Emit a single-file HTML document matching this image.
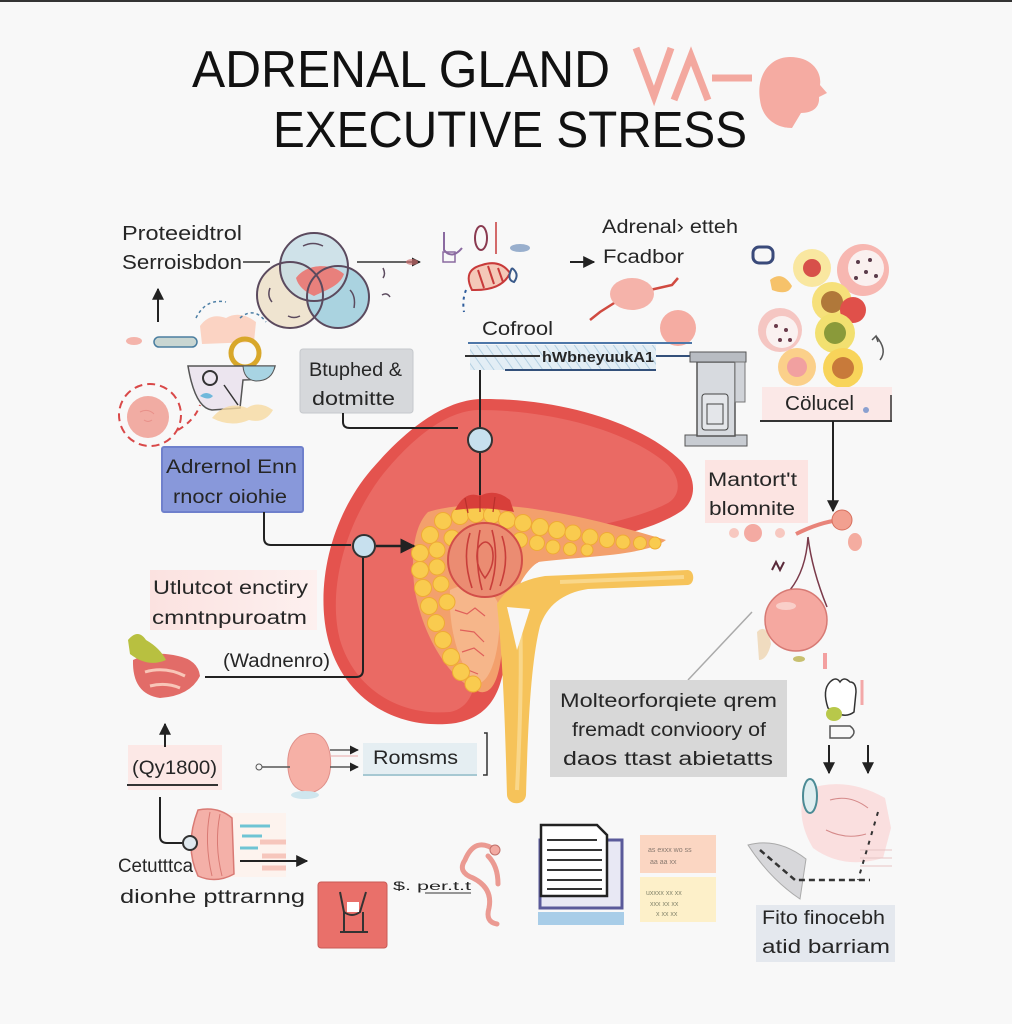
<!DOCTYPE html>
<html><head><meta charset="utf-8">
<style>
html,body{margin:0;padding:0;background:#f8f8f8;}
svg{display:block;}
text{font-family:"Liberation Sans",sans-serif;fill:#262626;}
</style></head><body>
<svg width="1012" height="1024" viewBox="0 0 1012 1024" xmlns="http://www.w3.org/2000/svg">
<defs>
<marker id="ah" viewBox="0 0 10 10" refX="9" refY="5" markerWidth="6" markerHeight="6" orient="auto"><path d="M0,0 L10,5 L0,10 Z" fill="#222"/></marker>
<pattern id="stripe" width="8" height="8" patternUnits="userSpaceOnUse" patternTransform="rotate(-35)"><rect width="8" height="8" fill="#e3eef5"/><line x1="0" y1="0" x2="0" y2="8" stroke="#b3d0e2" stroke-width="2"/></pattern>
<linearGradient id="pinkfade" x1="0" x2="1"><stop offset="0" stop-color="#fbe2e0"/><stop offset="1" stop-color="#fdf0ef"/></linearGradient>
</defs>
<rect width="1012" height="1024" fill="#f8f8f8"/>
<rect width="1012" height="2" fill="#333"/>

<!-- TITLE -->
<text x="192" y="87" font-size="52" textLength="418" lengthAdjust="spacingAndGlyphs" style="fill:#111">ADRENAL GLAND</text>
<text x="273" y="147" font-size="51" textLength="474" lengthAdjust="spacingAndGlyphs" style="fill:#111">EXECUTIVE STRESS</text>
<g stroke="#f3a89f" stroke-width="7" fill="none" stroke-linejoin="miter">
<polyline points="636,48 654,96 671,48"/>
<polyline points="674,100 691,56 708,100"/>
<line x1="712" y1="78" x2="752" y2="78"/>
</g>
<path d="M790,57 C812,57 822,72 820,85 L827,93 L819,97 C820,108 812,113 801,113 L792,128 C776,128 762,118 760,100 C756,75 770,57 790,57Z" fill="#f5aba2"/>

<!-- TOP LEFT LABEL -->
<text x="122" y="240" font-size="20" textLength="120" lengthAdjust="spacingAndGlyphs">Proteeidtrol</text>
<text x="122" y="269" font-size="20" textLength="120" lengthAdjust="spacingAndGlyphs">Serroisbdon</text>
<line x1="243" y1="262" x2="270" y2="262" stroke="#333" stroke-width="1.5"/>
<line x1="357" y1="262" x2="420" y2="262" stroke="#333" stroke-width="1.5" marker-end="url(#ah)"/>
<ellipse cx="412" cy="262" rx="6" ry="3" fill="#c96d6d" opacity="0.7"/>

<!-- VENN -->
<circle cx="290" cy="295" r="33" fill="#efe4d0"/>
<circle cx="338" cy="297" r="31" fill="#aad3e0"/>
<circle cx="314" cy="267" r="34" fill="#c4dce5" fill-opacity="0.8"/>
<path d="M296,278 C306,264 330,262 344,274 C340,286 326,290 314,296 C305,292 298,286 296,278Z" fill="#e8807c"/>
<g stroke="#5b4a5e" stroke-width="2" fill="none">
<circle cx="290" cy="295" r="33"/>
<circle cx="338" cy="297" r="31"/>
<circle cx="314" cy="267" r="34"/>
</g>
<g stroke="#5b4a5e" stroke-width="1.5" fill="none">
<path d="M270,288 q-3,8 2,14"/><path d="M288,316 q6,3 12,0"/><path d="M350,290 q6,6 4,18"/><path d="M303,246 q10,-5 20,0"/>
<path d="M383,268 q3,6 0,10"/><path d="M382,295 q5,-3 8,2"/>
</g>

<!-- up arrow left -->
<line x1="158" y1="322" x2="158" y2="289" stroke="#222" stroke-width="2" marker-end="url(#ah)"/>

<!-- left cluster -->
<ellipse cx="134" cy="341" rx="8" ry="4" fill="#f4b4ab"/>
<rect x="154" y="337" width="43" height="10" rx="5" fill="#c9d6d2" stroke="#4a7ea0" stroke-width="1.5"/>
<path d="M200,326 q10,-14 26,-8 q14,-8 30,4 l-2,20 l-52,2 Z" fill="#fbd3c3"/>
<path d="M196,318 q10,-20 30,-16" stroke="#4d7fa5" stroke-width="1.5" stroke-dasharray="3 3" fill="none"/>
<path d="M240,318 q14,-12 26,4" stroke="#4d7fa5" stroke-width="1.5" stroke-dasharray="3 3" fill="none"/>
<circle cx="245" cy="353" r="14" fill="none" stroke="#d8a72a" stroke-width="5"/>
<path d="M188,366 L275,366 Q272,380 243,380 L240,408 L212,410 Q195,408 188,366Z" fill="#ece5ef" stroke="#555" stroke-width="1.5"/>
<path d="M243,366 L275,366 Q272,381 256,381 Q244,380 243,366Z" fill="#a8d4e3" stroke="#555" stroke-width="1"/>
<circle cx="210" cy="378" r="7" fill="none" stroke="#333" stroke-width="2"/>
<path d="M200,396 q6,-6 13,0 q-4,5 -13,0Z" fill="#6fb8db"/>
<path d="M212,418 q15,-18 35,-10 q12,-8 26,2 q-8,14 -24,10 q-18,8 -37,-2Z" fill="#f6d9a0" opacity="0.8"/>
<line x1="224" y1="385" x2="238" y2="405" stroke="#333" stroke-width="1.5"/>
<circle cx="148" cy="417" r="21" fill="#f1aca3"/>
<path d="M140,412 q8,-4 14,2 M144,420 q4,3 8,0" stroke="#e89089" fill="none"/>
<circle cx="150" cy="415" r="31" fill="none" stroke="#d94848" stroke-width="2" stroke-dasharray="8 5"/>
<path d="M178,430 Q195,420 200,405" stroke="#d94848" stroke-width="2" stroke-dasharray="6 5" fill="none"/>

<!-- Btuphed box -->
<rect x="300" y="349" width="113" height="64" rx="3" fill="#d6d8db" stroke="#c5c8cc"/>
<text x="309" y="376" font-size="19" textLength="93" lengthAdjust="spacingAndGlyphs">Btuphed &amp;</text>
<text x="312" y="405" font-size="19" textLength="83" lengthAdjust="spacingAndGlyphs">dotmitte</text>

<!-- Adrernol box -->
<rect x="162" y="447" width="141" height="65" rx="2" fill="#8898da" stroke="#6f80cc" stroke-width="2"/>
<text x="166" y="473" font-size="19" textLength="131" lengthAdjust="spacingAndGlyphs">Adrernol Enn</text>
<text x="173" y="503" font-size="19" textLength="114" lengthAdjust="spacingAndGlyphs">rnocr oiohie</text>

<!-- top center icon -->
<g fill="none" stroke-width="2">
<path d="M444,232 l0,18 q8,10 18,-2" stroke="#8a6aa0"/>
<rect x="443" y="252" width="12" height="10" stroke="#8a6aa0" stroke-width="1.5"/>
<ellipse cx="481" cy="238" rx="6" ry="12" stroke="#8a3a50"/>
<line x1="496" y1="222" x2="496" y2="254" stroke="#d36a6a"/>
<path d="M472,290 q-10,-20 10,-25 q18,-6 28,8 q-8,18 -38,17Z" stroke="#c83a3a" fill="#f4c8b8"/>
<path d="M478,270 l6,18 M488,266 l6,18 M498,268 l5,14" stroke="#c83a3a"/>
<path d="M512,268 q8,6 2,14 q-8,-2 -2,-14" stroke="#3a5a8a"/>
<path d="M466,290 q-4,10 -2,22" stroke="#2f5d9c" stroke-dasharray="3 4"/>
</g>
<ellipse cx="520" cy="248" rx="10" ry="4" fill="#5a7fb0" opacity="0.6"/>

<!-- Adrenal etteh -->
<text x="602" y="233" font-size="19" textLength="136" lengthAdjust="spacingAndGlyphs">Adrenal› etteh</text>
<text x="603" y="263" font-size="19" textLength="81" lengthAdjust="spacingAndGlyphs">Fcadbor</text>
<line x1="570" y1="262" x2="594" y2="262" stroke="#222" stroke-width="2" marker-end="url(#ah)"/>
<path d="M622,298 L600,312 L590,320 M650,290 L672,285 L678,278" stroke="#d04a40" stroke-width="2.5" fill="none"/>
<ellipse cx="632" cy="294" rx="22" ry="16" fill="#f5b3aa"/>
<circle cx="678" cy="328" r="18" fill="#f5aca2"/>

<!-- Cortisol bar -->
<text x="482" y="335" font-size="19" textLength="71" lengthAdjust="spacingAndGlyphs">Cofrool</text>
<rect x="470" y="345" width="186" height="25" fill="url(#stripe)"/>
<line x1="468" y1="343" x2="692" y2="343" stroke="#4d77a8" stroke-width="2"/>
<line x1="505" y1="370" x2="656" y2="370" stroke="#33507a" stroke-width="2"/>
<line x1="465" y1="356" x2="540" y2="356" stroke="#333" stroke-width="2"/>
<line x1="656" y1="356" x2="700" y2="356" stroke="#33507a" stroke-width="2"/>
<text x="542" y="362" font-size="15" font-weight="bold" textLength="112" lengthAdjust="spacingAndGlyphs">hWbneyuukA1</text>

<!-- machine -->
<rect x="685" y="435" width="62" height="11" fill="#c8ccd2" stroke="#555"/>
<rect x="697" y="362" width="38" height="74" fill="#d7dadf" stroke="#555" stroke-width="1.5"/>
<rect x="690" y="352" width="56" height="10" fill="#b8bcc2" stroke="#555"/>
<rect x="735" y="362" width="10" height="40" fill="#d0d3d8" stroke="#777"/>
<rect x="702" y="394" width="26" height="36" rx="3" fill="#e4e6ea" stroke="#444"/>
<rect x="707" y="404" width="16" height="20" fill="none" stroke="#444"/>

<!-- cell cluster top right -->
<rect x="753" y="247" width="20" height="16" rx="6" fill="none" stroke="#3a4a7a" stroke-width="3"/>
<circle cx="863" cy="270" r="26" fill="#f7b7b1"/>
<circle cx="866" cy="268" r="18" fill="#faf0ef"/>
<g fill="#5a3a4a"><circle cx="858" cy="262" r="2"/><circle cx="870" cy="260" r="2"/><circle cx="866" cy="272" r="2"/><circle cx="876" cy="276" r="2"/><circle cx="856" cy="278" r="2"/></g>
<circle cx="780" cy="330" r="22" fill="#f5c6c2"/>
<circle cx="782" cy="332" r="16" fill="#faf1f0"/>
<g fill="#6a3a4a"><circle cx="776" cy="326" r="2"/><circle cx="786" cy="330" r="2"/><circle cx="780" cy="340" r="2"/><circle cx="790" cy="340" r="2"/></g>
<path d="M770,280 q12,-10 22,6 q-4,10 -20,4Z" fill="#f6c26a"/>
<circle cx="812" cy="268" r="19" fill="#f9e7a0"/><circle cx="812" cy="268" r="9" fill="#d7504a"/>
<circle cx="832" cy="302" r="20" fill="#f6e07a"/><circle cx="832" cy="302" r="11" fill="#b0783a"/>
<circle cx="853" cy="310" r="13" fill="#e0504a"/>
<circle cx="835" cy="333" r="20" fill="#f2e070"/><circle cx="835" cy="333" r="11" fill="#8a9a3a"/>
<circle cx="797" cy="367" r="19" fill="#fbd08a"/><circle cx="797" cy="367" r="10" fill="#f1a0a0"/>
<circle cx="843" cy="368" r="20" fill="#f8d45a"/><circle cx="843" cy="368" r="11" fill="#c87a3a"/>
<path d="M880,360 q8,-10 -4,-24 M872,340 l4,-4 l2,6" stroke="#555" stroke-width="1.5" fill="none"/>

<!-- Colucel box -->
<rect x="762" y="387" width="130" height="34" fill="#fbe8e7"/>
<line x1="760" y1="421" x2="892" y2="421" stroke="#333" stroke-width="2"/>
<line x1="891" y1="395" x2="891" y2="421" stroke="#333" stroke-width="1.5"/>
<text x="785" y="410" font-size="20" textLength="69" lengthAdjust="spacingAndGlyphs">Cölucel</text>
<circle cx="866" cy="410" r="3" fill="#8aa0d0"/>
<line x1="833" y1="421" x2="833" y2="511" stroke="#222" stroke-width="2" marker-end="url(#ah)"/>

<!-- Mantort box -->
<rect x="705" y="460" width="103" height="63" fill="#fce4e2"/>
<text x="708" y="486" font-size="19" textLength="89" lengthAdjust="spacingAndGlyphs">Mantort't</text>
<text x="709" y="515" font-size="19" textLength="86" lengthAdjust="spacingAndGlyphs">blomnite</text>

<!-- right organ group -->
<circle cx="734" cy="533" r="5" fill="#f7c8c0"/><circle cx="753" cy="533" r="9" fill="#f4aaa2"/><circle cx="780" cy="533" r="5" fill="#f7c8c0"/>
<path d="M796,534 Q820,522 840,520" stroke="#e8847a" stroke-width="4" fill="none"/>
<circle cx="842" cy="520" r="10" fill="#f2a090" stroke="#d8705e"/>
<ellipse cx="855" cy="542" rx="7" ry="9" fill="#f4aca0"/>
<path d="M808,537 Q806,570 790,590 M808,537 Q812,570 827,607" stroke="#7a3a4a" stroke-width="1.5" fill="none"/>
<path d="M772,570 l4,-8 l4,8 l4,-8" stroke="#5a2a3a" stroke-width="2" fill="none"/>
<path d="M757,632 q10,-10 14,12 q-4,16 -12,16Z" fill="#f0dcc0"/>
<circle cx="796" cy="620" r="31" fill="#f5a8a0" stroke="#d77a74" stroke-width="1.5"/>
<ellipse cx="786" cy="606" rx="10" ry="4" fill="#f9cfc9"/>
<ellipse cx="799" cy="659" rx="6" ry="3" fill="#c8c070"/>
<rect x="823" y="653" width="4" height="16" fill="#f3a0a0"/>
<line x1="752" y1="612" x2="688" y2="680" stroke="#aaa" stroke-width="1.5"/>

<!-- hand -->
<path d="M828,708 q-6,-18 2,-26 q6,-6 10,0 q4,-6 10,0 q6,0 6,10 l-2,20 q-10,8 -26,-4Z" fill="#fff" stroke="#333" stroke-width="1.5"/>
<ellipse cx="834" cy="714" rx="8" ry="7" fill="#b8c84a"/>
<path d="M830,726 l20,0 q8,6 0,12 l-20,0Z" fill="none" stroke="#555" stroke-width="1.5"/>
<line x1="862" y1="680" x2="862" y2="705" stroke="#f3a8a8" stroke-width="3"/>
<line x1="829" y1="745" x2="829" y2="773" stroke="#222" stroke-width="2" marker-end="url(#ah)"/>
<line x1="868" y1="745" x2="868" y2="773" stroke="#222" stroke-width="2" marker-end="url(#ah)"/>

<!-- Molte box -->
<rect x="550" y="680" width="237" height="97" fill="#d8d8d8"/>
<text x="560" y="707" font-size="19" textLength="217" lengthAdjust="spacingAndGlyphs">Molteorforqiete qrem</text>
<text x="572" y="736" font-size="19" textLength="194" lengthAdjust="spacingAndGlyphs">fremadt convioory of</text>
<text x="563" y="765" font-size="19" textLength="210" lengthAdjust="spacingAndGlyphs">daos ttast abietatts</text>

<!-- right bottom -->
<path d="M805,790 q40,-15 80,8 l6,30 l-8,30 q-40,12 -70,-10 q-18,-30 -8,-58Z" fill="#f9dcdc" opacity="0.9"/>
<path d="M830,800 q20,-6 38,8 M826,830 q20,10 40,4" stroke="#d58a8a" fill="none"/>
<g stroke="#e7c4c4"><line x1="860" y1="850" x2="892" y2="850"/><line x1="860" y1="858" x2="892" y2="858"/><line x1="860" y1="866" x2="892" y2="866"/></g>
<ellipse cx="810" cy="796" rx="7" ry="17" fill="#dfeef0" stroke="#4b8b95" stroke-width="2"/>
<path d="M748,845 q30,-8 58,14 l-6,40 q-30,-20 -52,-54Z" fill="#d7d7da" stroke="#aaa"/>
<path d="M760,850 L795,880 L870,880" stroke="#333" stroke-width="2.5" stroke-dasharray="6 4" fill="none"/>
<line x1="878" y1="812" x2="858" y2="880" stroke="#333" stroke-width="2" stroke-dasharray="4 6"/>
<rect x="756" y="905" width="139" height="57" fill="#e4e8ee"/>
<text x="762" y="924" font-size="19" textLength="123" lengthAdjust="spacingAndGlyphs">Fito finocebh</text>
<text x="762" y="953" font-size="19" textLength="128" lengthAdjust="spacingAndGlyphs">atid barriam</text>

<!-- laptop & doc -->
<rect x="540" y="840" width="82" height="68" fill="#e8e8f4" stroke="#5a5a9a" stroke-width="3"/>
<rect x="538" y="912" width="86" height="13" fill="#a8cde8"/>
<path d="M541,825 L597,825 L607,835 L607,896 L541,896Z" fill="#fff" stroke="#222" stroke-width="2.5"/>
<g stroke="#333" stroke-width="2"><line x1="547" y1="840" x2="597" y2="840"/><line x1="547" y1="850" x2="602" y2="850"/><line x1="547" y1="860" x2="602" y2="860"/><line x1="547" y1="870" x2="602" y2="870"/><line x1="547" y1="880" x2="602" y2="880"/><line x1="547" y1="889" x2="602" y2="889"/></g>
<rect x="640" y="835" width="76" height="38" fill="#fbd6c2"/>
<rect x="640" y="877" width="76" height="45" fill="#fdf0c9"/>
<text x="648" y="852" font-size="7" style="fill:#8a7a70">as exxx wo ss</text><text x="650" y="864" font-size="7" style="fill:#8a7a70">aa aa xx</text><text x="646" y="895" font-size="7" style="fill:#8a8a70">uxxxx  xx xx</text><text x="650" y="906" font-size="7" style="fill:#8a8a70">xxx xx xx</text><text x="656" y="916" font-size="7" style="fill:#8a8a70">x xx xx</text>

<!-- bottom-left -->
<text x="118" y="872" font-size="19" textLength="75" lengthAdjust="spacingAndGlyphs">Cetutttca</text>
<text x="120" y="903" font-size="19" textLength="185" lengthAdjust="spacingAndGlyphs">dionhe pttrarnng</text>
<path d="M160,797 L160,836 Q160,843 167,843 L186,843" stroke="#222" stroke-width="2" fill="none"/>
<rect x="226" y="813" width="60" height="64" fill="#fdf2ec" opacity="0.9"/>
<g stroke="#6ec4d4" stroke-width="3"><line x1="240" y1="826" x2="270" y2="826"/><line x1="242" y1="836" x2="262" y2="836"/><line x1="240" y1="848" x2="258" y2="848"/></g>
<g stroke="#f6c6bc" stroke-width="5"><line x1="260" y1="842" x2="286" y2="842"/><line x1="262" y1="856" x2="286" y2="856"/><line x1="262" y1="868" x2="286" y2="868"/></g>
<path d="M198,810 q20,-4 34,8 l2,56 q-18,10 -36,2 q-14,-30 0,-66Z" fill="#f4b0a8" stroke="#d97a74" stroke-width="1.5"/>
<path d="M210,812 q-6,30 2,64 M220,814 q-6,30 2,62" stroke="#d97a74" fill="none"/>
<circle cx="190" cy="843" r="7" fill="#dfe8ee" stroke="#333" stroke-width="2"/>
<line x1="240" y1="861" x2="307" y2="861" stroke="#222" stroke-width="2" marker-end="url(#ah)"/>
<rect x="318" y="882" width="69" height="66" rx="3" fill="#e9706a" stroke="#c95a55"/>
<path d="M340,892 l4,20 q8,6 16,0 l6,-20 M344,912 l0,20 M363,912 l0,20 M340,932 l28,0" stroke="#333" stroke-width="2" fill="none"/>
<rect x="347" y="902" width="12" height="10" fill="#fff"/>
<text x="393" y="890" font-size="12" textLength="78" lengthAdjust="spacingAndGlyphs">$.   per.t.t</text>
<line x1="425" y1="893" x2="471" y2="893" stroke="#333" stroke-width="1"/>
<path d="M495,850 q-20,-14 -30,10 q-8,12 8,18 q20,10 16,30 q-4,14 8,16 M488,856 q10,10 10,28" stroke="#eb9a92" stroke-width="5" fill="none" stroke-linecap="round"/>
<circle cx="495" cy="850" r="5" fill="#f2aaa2" stroke="#c0706a"/>

<!-- mid-left -->
<rect x="150" y="570" width="167" height="60" fill="url(#pinkfade)"/>
<text x="153" y="594" font-size="19" textLength="155" lengthAdjust="spacingAndGlyphs">Utlutcot enctiry</text>
<text x="152" y="624" font-size="19" textLength="155" lengthAdjust="spacingAndGlyphs">cmntnpuroatm</text>
<text x="223" y="667" font-size="19" textLength="107" lengthAdjust="spacingAndGlyphs">(Wadnenro)</text>
<path d="M133,660 q20,-10 45,-4 q20,4 22,20 q-10,20 -40,22 q-28,-4 -27,-38Z" fill="#e26c68"/>
<path d="M145,672 q20,-6 40,4 M150,686 q16,-4 30,2" stroke="#f8c6b8" stroke-width="3" fill="none"/>
<path d="M128,640 q10,-12 18,0 q14,8 20,20 q-18,8 -36,-6Z" fill="#b8c040"/>
<rect x="128" y="745" width="94" height="45" fill="#fce8e6"/>
<text x="132" y="774" font-size="19" textLength="85" lengthAdjust="spacingAndGlyphs">(Qy1800)</text>
<line x1="127" y1="785" x2="218" y2="785" stroke="#333" stroke-width="2"/>
<line x1="165" y1="747" x2="165" y2="724" stroke="#222" stroke-width="2" marker-end="url(#ah)"/>

<!-- Romsms -->
<path d="M300,736 q25,-10 30,18 q4,30 -16,38 q-24,2 -26,-24 q-2,-22 12,-32Z" fill="#f6b0a6" stroke="#e0908a"/>
<ellipse cx="305" cy="795" rx="14" ry="4" fill="#cfe6ee"/>
<line x1="262" y1="767" x2="290" y2="767" stroke="#555" stroke-width="1.5"/>
<circle cx="259" cy="767" r="3" fill="none" stroke="#555"/>
<line x1="330" y1="750" x2="358" y2="750" stroke="#555" stroke-width="1.5" marker-end="url(#ah)"/>
<line x1="330" y1="756" x2="358" y2="756" stroke="#e8a8a8" stroke-width="1"/>
<line x1="330" y1="767" x2="358" y2="767" stroke="#555" stroke-width="1.5" marker-end="url(#ah)"/>
<rect x="363" y="743" width="114" height="32" fill="#e5eef2"/>
<line x1="363" y1="775" x2="477" y2="775" stroke="#a6c8d2" stroke-width="2"/>
<text x="373" y="764" font-size="19" textLength="85" lengthAdjust="spacingAndGlyphs">Romsms</text>
<path d="M484,733 L487,733 L487,775 L483,775" stroke="#333" stroke-width="1.5" fill="none"/>

<!-- KIDNEY -->
<path d="M480,399 C565,398 645,425 682,462 C698,480 696,502 680,512 C652,530 605,540 565,546 L532,566 C516,582 509,612 506,650 C503,690 492,716 456,723 C400,731 346,702 329,643 C315,593 327,522 371,470 C402,434 440,401 480,399Z" fill="#e4534e"/>
<path d="M478,410 C560,410 635,435 668,465 C682,480 680,496 668,503 C640,518 590,528 545,536 C500,548 480,600 478,660 C476,690 470,708 450,712 C400,716 355,690 340,640 C328,594 342,530 380,478 C410,440 445,411 478,410Z" fill="#ea6a64"/>
<!-- yellow band -->
<path d="M428,512 C480,496 560,508 666,540 C645,556 585,556 538,562 C517,577 507,612 502,650 C499,680 492,694 480,692 C452,682 425,642 415,592 C410,556 414,526 428,512Z" fill="#f3a06c"/>
<path d="M450,590 C470,580 495,585 500,610 C500,650 492,680 478,684 C460,670 448,630 450,590Z" fill="#f6b68a"/>
<path d="M455,610 l12,4 l8,-6 l10,8 M460,630 l14,2 l10,10 M462,652 l12,-4 l10,8 M468,670 l10,4" stroke="#e0605a" stroke-width="1.2" fill="none"/>
<g fill="#f9cb4f" stroke="#efab35" stroke-width="1">
<circle cx="420" cy="553" r="8.5"/><circle cx="420" cy="570" r="8.5"/><circle cx="423" cy="588" r="8.5"/><circle cx="429" cy="606" r="8.5"/><circle cx="436" cy="623" r="8.5"/><circle cx="443" cy="640" r="8.5"/><circle cx="451" cy="657" r="8.5"/><circle cx="461" cy="672" r="8.5"/><circle cx="473" cy="684" r="8"/>
<circle cx="430" cy="535" r="8.5"/><circle cx="443" cy="521" r="8.5"/><circle cx="437" cy="550" r="8"/><circle cx="437" cy="567" r="8"/><circle cx="441" cy="584" r="8"/><circle cx="447" cy="602" r="8"/><circle cx="452" cy="538" r="8"/>
<circle cx="460" cy="516" r="8.5"/><circle cx="476" cy="514" r="8.5"/><circle cx="492" cy="515" r="8.5"/>
<circle cx="507" cy="520" r="8.5"/><circle cx="523" cy="523" r="8.5"/><circle cx="540" cy="527" r="8.5"/><circle cx="557" cy="530" r="8.5"/><circle cx="573" cy="533" r="8"/><circle cx="590" cy="537" r="8"/><circle cx="607" cy="540" r="7.5"/><circle cx="623" cy="542" r="7"/><circle cx="640" cy="543" r="6.5"/><circle cx="655" cy="543" r="6"/>
<circle cx="520" cy="540" r="7.5"/><circle cx="537" cy="543" r="7.5"/><circle cx="553" cy="547" r="7"/><circle cx="570" cy="549" r="6.5"/><circle cx="587" cy="550" r="6"/>
</g>
<!-- center circle -->
<circle cx="485" cy="560" r="37" fill="#eb8c72" stroke="#d24e48" stroke-width="2"/>
<g stroke="#c83e3a" stroke-width="1.6" fill="none">
<path d="M470,533 q-8,25 2,55 M480,530 q-6,30 2,60 M492,530 q8,30 -2,60 M502,536 q8,24 -2,50"/>
<path d="M478,548 q8,-12 14,0 q4,16 -7,30 q-11,-14 -7,-30Z"/>
</g>
<path d="M455,510 q10,-20 25,-14 q15,-8 30,4 l4,12 q-30,-6 -59,-2Z" fill="#d83f3a"/>
<g stroke="#b8302c" stroke-width="1.2"><line x1="465" y1="498" x2="468" y2="513"/><line x1="480" y1="495" x2="480" y2="512"/><line x1="495" y1="497" x2="493" y2="512"/></g>

<!-- yellow vessel -->
<path d="M520,588 L560,584 L545,610 L530,612Z" fill="#fbe1a6"/>
<path d="M497,604 C505,590 520,580 545,576 L688,570 C695,571 695,584 688,585 L588,589 C562,593 547,606 540,626 C531,662 528,722 526,795 C525,806 508,806 507,795 C505,722 503,662 497,604Z" fill="#f6c35a"/>
<path d="M520,620 C522,670 520,730 517,790" stroke="#f9d78a" stroke-width="4" fill="none"/>
<path d="M560,582 L684,577" stroke="#f9d78a" stroke-width="4" fill="none"/>
<path d="M507,607 L530,609 L517,650Z" fill="#f8f8f8"/>

<!-- connectors on kidney -->
<path d="M343,413 L343,422 Q343,428 350,428 L458,428" stroke="#222" stroke-width="2" fill="none"/>
<line x1="480" y1="370" x2="480" y2="428" stroke="#222" stroke-width="2"/>
<line x1="480" y1="452" x2="480" y2="495" stroke="#222" stroke-width="2"/>
<circle cx="480" cy="440" r="12" fill="#c7e0ee" stroke="#333" stroke-width="2"/>
<path d="M264,512 L264,538 Q264,545 271,545 L351,545" stroke="#222" stroke-width="2" fill="none"/>
<line x1="376" y1="546" x2="414" y2="546" stroke="#222" stroke-width="2.5" marker-end="url(#ah)"/>
<path d="M363,557 L363,670 Q363,677 356,677 L205,677" stroke="#222" stroke-width="2" fill="none"/>
<circle cx="364" cy="546" r="11" fill="#c7e0ee" stroke="#333" stroke-width="2"/>
</svg>
</body></html>
